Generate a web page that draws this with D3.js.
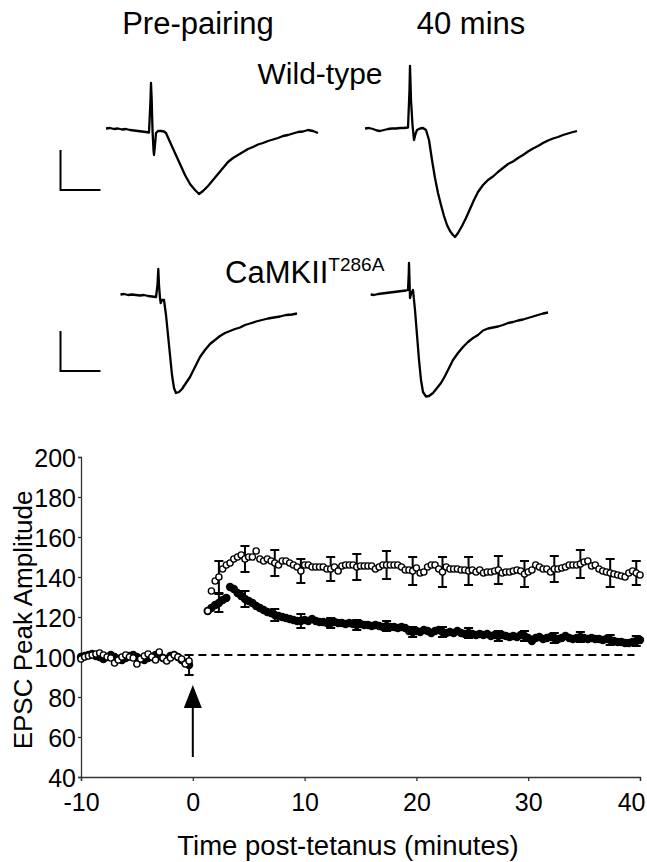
<!DOCTYPE html>
<html><head><meta charset="utf-8">
<script src="https://cdn.jsdelivr.net/npm/d3@7"></script>
<style>
body{margin:0;background:#fff}
svg{display:block}
text{font-family:"Liberation Sans",Arial,sans-serif;fill:#000}
</style>
</head><body><svg id="c" width="647" height="862"></svg>
<script>
// ---------------- DATA ----------------
const SAMPLE_MIN = 1/3;                 // one EPSC every 20 s
const baseStart = -10, postStart = 4/3;

// Wild-type (open circles), % baseline
const wtBase = [99,100,100.5,101,101.5,102,101,100,99.5,97,98.5,100,101,100,99.5,96.5,99,100.5,101.5,100,98.5,102.5,99.5,98,99.5,101,100,99,96.5,98];
const wtPost = [
 123,133,138, 140,144,146, 147,149,150, 151,149,150, 150,153,149, 148,149,148,
 147,146,148, 148,147,146, 145,143,146, 146,145,145, 145,145,144, 144,145,143,
 145.5,146,146, 146,145,145.5, 145.5,145.5,145.5, 144,145,146, 146,146,146, 146,145,143.5,
 143.5,143,144.5, 142,142.5,145, 146,146,144, 142.5,145,144, 144,144,143.5, 143.5,143,143.5,
 142.5,143.5,142, 142.5,142.5,143, 143.5,142,142.5, 142.5,143,143.5, 143,141.5,142.5, 143.5,146,145,
 144,144,142.5, 144,144,144.5, 145,146,146, 146,146.5,147.5, 148,145.5,146, 144,143,142.5,
 142,141.5,141, 140.5,140,142, 143,142,141];
const wtErrT   = [2.33,4.67,7.33,9.67,12.33,14.67,17.33,19.67,22.33,24.67,27.33,29.67,32.33,34.67,37.33,39.67];
const wtErrSem = [8,6.5,6.5,6,6,6.5,7,7,7.5,7,7,6.5,6.5,7,7,6];

// CaMKII T286A (filled circles), % baseline
const kBase = [100,100.5,101,101.5,100.5,100,99,100,101,100,99,98.5,99.5,100.5,101,100,99,98.5,99.5,100,101,100.5,99.5,99,100.5,101,100,98.5,97,96];
const kPost = [
 123,124.5,126, 127,128.5,129.5, 135,134,132, 130.5,129,128, 127,125.5,124.5, 123.5,122.5,122,
 121,120.5,120, 119.5,119,118.5, 118,118,118.5, 118,119,118, 117.5,117.5,117, 117,117.5,117,
 117,116.5,117, 116.5,116,116.5, 116,116,115.5, 116,115.5,115, 115.5,115,115, 114.5,115,114.5,
 113,112.5,113, 112.5,113.5,113, 112,113,113.5, 112.5,112,112.5, 112,113,112, 111.5,112,111.5,
 111,111.5,111, 111.5,110.5,111, 110.5,111,110.5, 110,110.5,110, 111,110.5,109.5, 108,109.5,110,
 109,109.5,110, 109.5,109,109.5, 110.5,109.5,109, 109.5,110,109.5, 109,109.5,109, 109,108.5,109,
 108.5,108,107.5, 107.5,107,107, 107.5,108,108.5];
const kErrT   = [-0.33,2.33,4.67,7.33,9.67,12.33,14.67,17.33,19.67,22.33,24.67,27.33,29.67,32.33,34.67,37.33,39.67];
const kErrSem = [5,4.5,4,3,3.5,2.5,2.5,2.5,2.5,2.5,2.5,2.5,2.5,2.5,2.5,2.5,2.5];

const xTicks = [-10,0,10,20,30,40];
const yTicks = [40,60,80,100,120,140,160,180,200];
const baselineLevel = 101;
const dashT = [0.5, 39.5];
const arrowT = 0, arrowTip = 86, arrowTail = 50;

// EPSC traces: time (ms), current (pA)
const wtPreT = [0,2,4,6,8,10,12,14,16,18,20,21.5,22.25,22.5,22.85,23.25,23.75,24,24.5,25,26,27.5,29,30,32,34.5,37,39.5,42,44.5,46.5,48.5,51,53.5,56,58.5,61,63.5,66,68.5,71,73.5,76,78.5,81,83.5,86,88.5,91,93.5,96,98.5,101,103.5,106];
const wtPreI = [-1.25,0,-2.5,-1.25,-3.75,-2.5,-5,-6.25,-7.5,-8.75,-10,-11.25,70,112.5,70,-5,-55,-67.5,-42.5,-12.5,-7.5,-7.5,-8.75,-12.5,-35,-62.5,-90,-117.5,-140,-155,-165,-157.5,-145,-130,-115,-100,-85,-75,-67.5,-60,-52.5,-47.5,-41.25,-37.5,-32.5,-28.75,-25,-20,-17.5,-13.75,-10,-8.75,-5,-7.5,-12.5];
const wt40T = [0,2,4,6,7.5,9.5,11.5,13.5,15.5,17.5,19.5,21.5,22.25,22.5,23,23.75,24.5,25.25,26,27.5,29,30.5,32,33.5,35,36.5,38,39.5,41,42.5,44,45,46.5,48.5,50.5,52.5,54.5,56.5,59,61.5,64,66.5,69,71.5,74,76.5,79,81.5,84,86.5,89,91.5,94,96.5,99,101.5,104,106];
const wt40I = [-1.25,0,-2.5,-6.25,-7.5,-5,-2.5,-1.25,-1.25,0,0,1.25,95,155,70,7.5,-30,-15,-5,-1.25,0,-5,-30,-80,-125,-162.5,-192.5,-220,-242.5,-257.5,-267.5,-272.5,-262.5,-245,-225,-202.5,-180,-160,-142.5,-130,-121.25,-110,-100,-90,-83.75,-75,-67.5,-58.75,-51.25,-45,-37.5,-31.25,-26.25,-22.5,-17.5,-13.75,-10,-7.5];
const kPreT = [0.25,2,4,6,8,10,12,14,16,18,18.75,19.15,19.5,20,20.35,21,22,23,24,25,26,27,28,29.5,31,33,35,37.5,40,42.5,45,47.5,50,52.5,55,57.5,60,62.5,65,68,71,74,77,80,83,86,88.5];
const kPreI = [-1.25,0,-2.5,-1.25,-2.5,-3.75,-2.5,-5,-6.25,-7.5,22.5,62.5,22.5,-10,-22.5,-15,-15,-52.5,-102.5,-152.5,-202.5,-235,-247.5,-245,-237.5,-222.5,-207.5,-182.5,-157.5,-140,-125,-115,-105,-97.5,-92.5,-87.5,-83.75,-77.5,-73.75,-68.75,-65,-61.25,-58.75,-56.25,-52.5,-51.25,-48.75];
const k40T = [0.35,2,4,6,8,10,12,14,16,18,19,19.35,19.5,19.75,20,20.5,21.5,22.5,23.5,24.5,25.5,26.5,28,29.5,31.5,33.5,35.5,37.5,39.5,41.5,44,46.5,49,51.5,54,56.5,59,61.5,64,66.5,69,71.5,74,76.5,79,81.5,84,86.5,89];
const k40I = [-1.25,-2.5,0,1.25,2.5,3.75,5,6.25,7.5,8.75,10,47.5,77.5,35,-10,0,10,-40,-102.5,-165,-215,-245,-256.25,-255,-247.5,-235,-222.5,-205,-185,-165,-147.5,-132.5,-120,-110,-102.5,-91.25,-86.25,-83.75,-81.25,-77.5,-72.5,-70,-66.25,-63.75,-60,-56.25,-52.5,-48.75,-46.25];
const scaleBarMs = 20, scaleBarPA = 100;

// ---------------- DRAW ----------------
const svg = d3.select("#c");

// header labels
svg.append("text").attr("x",198).attr("y",34).attr("text-anchor","middle").attr("font-size",31).text("Pre-pairing");
svg.append("text").attr("x",471).attr("y",34).attr("text-anchor","middle").attr("font-size",31).text("40 mins");
svg.append("text").attr("x",320).attr("y",84).attr("text-anchor","middle").attr("font-size",30).text("Wild-type");
const ck = svg.append("text").attr("x",225).attr("y",283).attr("font-size",31);
ck.append("tspan").text("CaMKII");
ck.append("tspan").attr("font-size",19).attr("dy",-12).text("T286A");

// traces
const xT = d3.scaleLinear().domain([0,100]).range([0,200]);
const yT = d3.scaleLinear().domain([0,-100]).range([0,40]);
const tl = d3.line().x(d=>xT(d[0])).y(d=>yT(d[1]));
function trace(T,I,x0,y0){
  svg.append("path").attr("transform",`translate(${x0},${y0})`)
    .attr("d",tl(d3.zip(T,I))).attr("fill","none").attr("stroke","#000")
    .attr("stroke-width",2.3).attr("stroke-linejoin","round");
}
trace(wtPreT,wtPreI,106,128);
trace(wt40T,wt40I,365,128);
trace(kPreT,kPreI,120,294);
trace(k40T,k40I,370,294);
function scaleBar(x0,y0){
  const g = svg.append("g").attr("transform",`translate(${x0},${y0})`)
    .attr("stroke","#000").attr("stroke-width",2).attr("fill","none");
  g.append("path").attr("d",`M${xT(0)},${yT(0)}V${yT(-scaleBarPA)}H${xT(scaleBarMs)}`);
}
scaleBar(60.5,150);
scaleBar(60.5,331);

// summary plot
const x = d3.scaleLinear().domain([-10,40]).range([81,640]);
const y = d3.scaleLinear().domain([40,200]).range([777,457]);

const gx = svg.append("g").attr("transform","translate(0,777)")
  .call(d3.axisBottom(x).tickValues(xTicks).tickSize(4).tickPadding(12).tickFormat(d=>String(d)));
const gy = svg.append("g").attr("transform","translate(81,0)")
  .call(d3.axisLeft(y).tickValues(yTicks).tickSize(3).tickPadding(2).tickFormat(d=>String(d)));
[gx,gy].forEach(g=>{
  g.select(".domain").attr("stroke","#333").attr("stroke-width",1.3);
  g.selectAll(".tick line").attr("stroke","#333").attr("stroke-width",1.3);
  g.selectAll(".tick text").attr("font-size",25).attr("fill","#000")
   .style("font-family",'"Liberation Sans",Arial,sans-serif');
});
gx.selectAll(".tick text").attr("dy","0.71em");
gx.selectAll(".tick").filter(d=>d===40).select("text").attr("text-anchor","end").attr("dx",5);
gy.selectAll(".tick text").attr("dy","0.36em");

svg.append("text").attr("transform","translate(32,620) rotate(-90)").attr("text-anchor","middle")
  .attr("font-size",26).text("EPSC Peak Amplitude");
svg.append("text").attr("x",348).attr("y",855).attr("text-anchor","middle")
  .attr("font-size",27.5).text("Time post-tetanus (minutes)");

// dashed baseline
svg.append("line").attr("x1",x(dashT[0])).attr("x2",x(dashT[1]))
  .attr("y1",y(baselineLevel)).attr("y2",y(baselineLevel))
  .attr("stroke","#000").attr("stroke-width",2).attr("stroke-dasharray","8,5");

// arrow
svg.append("line").attr("x1",x(arrowT)).attr("x2",x(arrowT))
  .attr("y1",y(arrowTip)+18).attr("y2",y(arrowTail)).attr("stroke","#000").attr("stroke-width",2);
svg.append("path").attr("d",`M${x(arrowT)},${y(arrowTip)}l-9,23h18z`).attr("fill","#000");

const wtData = wtBase.map((v,i)=>[baseStart+i*SAMPLE_MIN,v]).concat(wtPost.map((v,i)=>[postStart+i*SAMPLE_MIN,v]));
const kData  = kBase.map((v,i)=>[baseStart+i*SAMPLE_MIN,v]).concat(kPost.map((v,i)=>[postStart+i*SAMPLE_MIN,v]));
function valAt(data,t){ return data.reduce((a,b)=>Math.abs(b[0]-t)<Math.abs(a[0]-t)?b:a); }
function errBars(data,ts,sems){
  const g = svg.append("g").attr("stroke","#000").attr("stroke-width",2).attr("fill","none");
  ts.forEach((t,i)=>{
    const p = valAt(data,t), cx = x(p[0]);
    const y1 = y(p[1]+sems[i]), y2 = y(p[1]-sems[i]);
    g.append("path").attr("d",`M${cx},${y1}V${y2}M${cx-4.5},${y1}h9M${cx-4.5},${y2}h9`);
  });
}
errBars(kData,kErrT,kErrSem);
svg.append("g").selectAll("circle").data(kData).join("circle")
  .attr("cx",d=>x(d[0])).attr("cy",d=>y(d[1])).attr("r",4.2).attr("fill","#000");
errBars(wtData,wtErrT,wtErrSem);
svg.append("g").selectAll("circle").data(wtData).join("circle")
  .attr("cx",d=>x(d[0])).attr("cy",d=>y(d[1])).attr("r",3.1)
  .attr("fill","#fff").attr("stroke","#000").attr("stroke-width",1.4);
</script></body></html>
